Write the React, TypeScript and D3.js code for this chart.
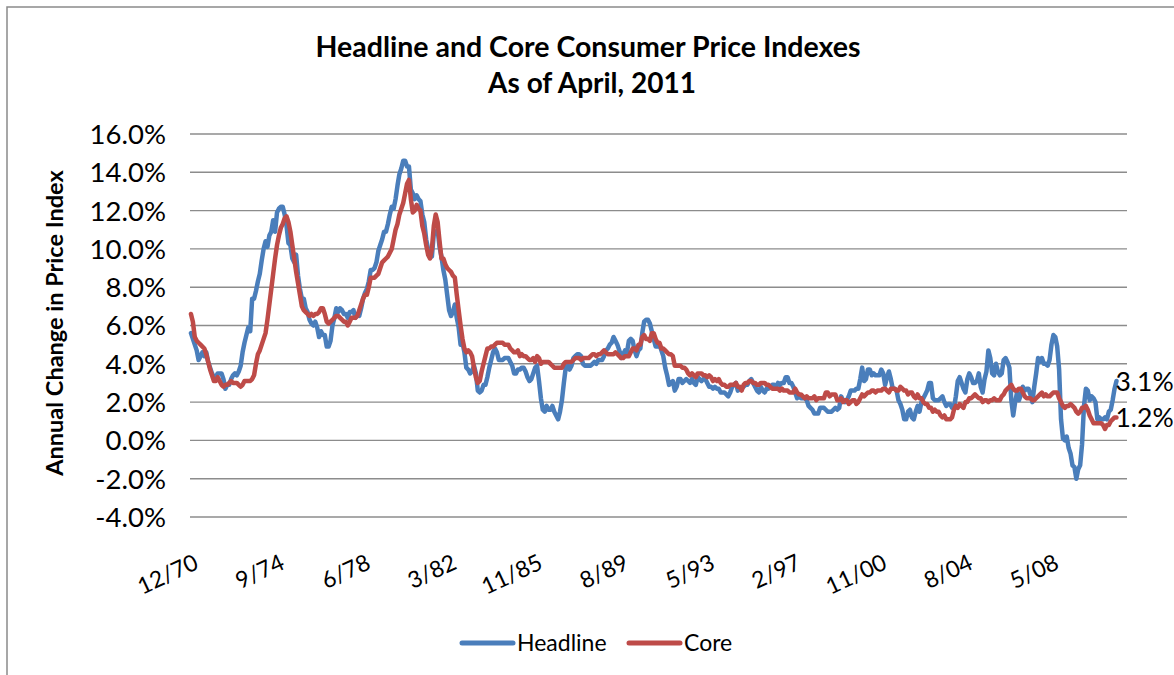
import React from "react";
import * as d3 from "d3";

// monthly year-over-year % change, Dec 1970 .. Apr 2011
const headline: number[] = [
  5.6,
  5.3, 5.0, 4.7, 4.2, 4.4, 4.6, 4.4, 4.6, 4.1, 3.8, 3.5, 3.3, // 1971
  3.3, 3.5, 3.5, 3.5, 3.2, 2.7, 2.9, 2.9, 3.2, 3.4, 3.5, 3.4, // 1972
  3.6, 3.9, 4.6, 5.1, 5.5, 5.9, 5.7, 7.4, 7.4, 7.8, 8.3, 8.7, // 1973
  9.4, 10.0, 10.4, 10.1, 10.7, 10.9, 11.5, 10.9, 11.9, 12.1, 12.2, 12.2, // 1974
  11.8, 11.2, 10.3, 10.2, 9.5, 9.3, 9.7, 8.6, 7.9, 7.4, 7.4, 6.9, // 1975
  6.7, 6.3, 6.1, 6.0, 6.2, 5.9, 5.4, 5.7, 5.5, 5.5, 4.9, 4.9, // 1976
  5.2, 6.0, 6.4, 6.9, 6.7, 6.9, 6.8, 6.6, 6.6, 6.4, 6.7, 6.7, // 1977
  6.8, 6.4, 6.6, 6.5, 6.9, 7.4, 7.7, 7.9, 8.3, 8.9, 8.9, 9.0, // 1978
  9.3, 9.9, 10.2, 10.5, 10.9, 10.9, 11.3, 11.8, 12.2, 12.1, 12.6, 13.3, // 1979
  13.9, 14.2, 14.6, 14.6, 14.3, 14.3, 13.1, 12.9, 12.6, 12.8, 12.6, 12.5, // 1980
  11.8, 11.4, 10.5, 10.0, 9.8, 9.6, 10.8, 10.8, 11.0, 10.1, 9.6, 8.9, // 1981
  8.4, 7.6, 6.8, 6.5, 6.7, 7.1, 6.4, 5.9, 5.0, 5.1, 4.6, 3.8, // 1982
  3.7, 3.5, 3.6, 3.9, 3.5, 2.6, 2.5, 2.6, 2.9, 2.9, 3.3, 3.8, // 1983
  4.2, 4.6, 4.8, 4.6, 4.2, 4.2, 4.2, 4.3, 4.3, 4.3, 4.1, 3.9, // 1984
  3.5, 3.5, 3.7, 3.7, 3.8, 3.8, 3.6, 3.3, 3.1, 3.2, 3.5, 3.8, // 1985
  3.9, 3.1, 2.2, 1.6, 1.5, 1.8, 1.6, 1.6, 1.8, 1.5, 1.3, 1.1, // 1986
  1.5, 2.1, 3.0, 3.8, 3.9, 3.7, 3.9, 4.3, 4.4, 4.5, 4.5, 4.4, // 1987
  4.0, 3.9, 3.9, 3.9, 3.9, 4.0, 4.1, 4.0, 4.2, 4.2, 4.2, 4.4, // 1988
  4.7, 4.8, 5.0, 5.1, 5.4, 5.2, 5.0, 4.7, 4.3, 4.5, 4.7, 4.6, // 1989
  5.2, 5.3, 5.2, 4.7, 4.4, 4.7, 4.8, 5.6, 6.2, 6.3, 6.3, 6.1, // 1990
  5.7, 5.3, 4.9, 4.9, 5.0, 4.7, 4.4, 3.8, 3.4, 2.9, 3.0, 3.1, // 1991
  2.6, 2.8, 3.2, 3.2, 3.0, 3.1, 3.2, 3.1, 3.0, 3.2, 3.0, 2.9, // 1992
  3.3, 3.2, 3.1, 3.2, 3.2, 3.0, 2.8, 2.8, 2.7, 2.8, 2.7, 2.7, // 1993
  2.5, 2.5, 2.5, 2.4, 2.3, 2.5, 2.8, 2.9, 3.0, 2.6, 2.7, 2.7, // 1994
  2.8, 2.9, 2.9, 3.1, 3.2, 3.0, 2.8, 2.6, 2.5, 2.8, 2.6, 2.5, // 1995
  2.7, 2.7, 2.8, 2.9, 2.9, 2.8, 3.0, 2.9, 3.0, 3.0, 3.3, 3.3, // 1996
  3.0, 3.0, 2.8, 2.5, 2.2, 2.3, 2.2, 2.2, 2.2, 2.1, 1.8, 1.7, // 1997
  1.6, 1.4, 1.4, 1.4, 1.7, 1.7, 1.7, 1.6, 1.5, 1.5, 1.5, 1.6, // 1998
  1.7, 1.6, 1.7, 2.3, 2.1, 2.0, 2.1, 2.3, 2.6, 2.6, 2.6, 2.7, // 1999
  2.7, 3.2, 3.8, 3.1, 3.2, 3.7, 3.7, 3.4, 3.5, 3.4, 3.4, 3.4, // 2000
  3.7, 3.5, 2.9, 3.3, 3.6, 3.2, 2.7, 2.7, 2.6, 2.1, 1.9, 1.6, // 2001
  1.1, 1.1, 1.5, 1.6, 1.2, 1.1, 1.5, 1.8, 1.5, 2.0, 2.2, 2.4, // 2002
  2.6, 3.0, 3.0, 2.2, 2.1, 2.1, 2.1, 2.2, 2.3, 2.0, 1.8, 1.9, // 2003
  1.9, 1.7, 1.7, 2.3, 3.1, 3.3, 3.0, 2.7, 2.5, 3.2, 3.5, 3.3, // 2004
  3.0, 3.0, 3.1, 3.5, 2.8, 2.5, 3.2, 3.6, 4.7, 4.3, 3.5, 3.4, // 2005
  4.0, 3.6, 3.4, 3.5, 4.2, 4.3, 4.1, 3.8, 2.1, 1.3, 2.0, 2.5, // 2006
  2.1, 2.4, 2.8, 2.6, 2.7, 2.7, 2.4, 2.0, 2.8, 3.5, 4.3, 4.1, // 2007
  4.3, 4.0, 4.0, 3.9, 4.2, 5.0, 5.5, 5.4, 4.9, 3.7, 1.1, 0.1, // 2008
  0.0, 0.2, -0.4, -0.7, -1.3, -1.4, -2.0, -1.5, -1.3, -0.2, 1.8, 2.7, // 2009
  2.6, 2.1, 2.3, 2.2, 2.0, 1.1, 1.2, 1.1, 1.1, 1.2, 1.1, 1.5, // 2010
  1.6, 2.1, 2.7, 3.1, // 2011
];

const core: number[] = [
  6.6,
  6.2, 5.4, 5.2, 5.1, 5.0, 4.9, 4.8, 4.5, 4.1, 3.7, 3.4, 3.1, // 1971
  3.1, 3.3, 3.1, 2.9, 2.8, 2.9, 2.9, 3.0, 3.1, 3.0, 3.0, 3.0, // 1972
  2.9, 2.8, 2.9, 3.1, 3.1, 3.1, 3.1, 3.2, 3.4, 4.0, 4.5, 4.7, // 1973
  5.0, 5.3, 5.6, 6.3, 7.1, 7.9, 8.7, 9.5, 10.2, 10.7, 11.1, 11.3, // 1974
  11.6, 11.7, 11.4, 10.9, 10.2, 9.5, 8.8, 8.2, 7.6, 7.0, 6.8, 6.7, // 1975
  6.6, 6.5, 6.6, 6.5, 6.6, 6.6, 6.7, 6.9, 6.9, 6.6, 6.2, 6.1, // 1976
  6.2, 6.3, 6.4, 6.5, 6.5, 6.4, 6.3, 6.2, 6.2, 6.0, 6.2, 6.4, // 1977
  6.4, 6.4, 6.5, 6.8, 7.1, 7.4, 7.6, 7.6, 8.0, 8.5, 8.5, 8.5, // 1978
  8.6, 8.7, 9.0, 9.3, 9.4, 9.5, 9.6, 9.8, 10.0, 10.5, 11.0, 11.3, // 1979
  11.8, 12.1, 12.4, 12.9, 13.4, 13.6, 12.6, 11.9, 12.0, 12.3, 12.1, 12.0, // 1980
  11.2, 10.8, 10.2, 9.7, 9.5, 10.0, 11.2, 11.8, 11.4, 10.4, 9.5, 9.5, // 1981
  9.2, 9.0, 8.9, 8.8, 8.6, 8.5, 7.6, 6.8, 6.0, 5.3, 4.8, 4.6, // 1982
  4.7, 4.6, 4.4, 3.8, 3.3, 3.0, 3.1, 3.6, 4.0, 4.4, 4.8, 4.8, // 1983
  4.9, 4.9, 5.0, 5.1, 5.1, 5.1, 5.1, 5.0, 5.0, 5.0, 4.8, 4.7, // 1984
  4.6, 4.6, 4.7, 4.4, 4.5, 4.4, 4.4, 4.3, 4.2, 4.2, 4.3, 4.1, // 1985
  4.4, 4.3, 4.0, 4.1, 4.1, 4.1, 4.1, 4.0, 3.9, 3.8, 3.8, 3.8, // 1986
  3.8, 3.8, 4.0, 4.1, 4.1, 4.1, 4.1, 4.2, 4.3, 4.3, 4.3, 4.2, // 1987
  4.3, 4.3, 4.3, 4.3, 4.4, 4.5, 4.5, 4.4, 4.5, 4.5, 4.6, 4.7, // 1988
  4.6, 4.5, 4.5, 4.5, 4.5, 4.6, 4.5, 4.4, 4.3, 4.3, 4.4, 4.4, // 1989
  4.4, 4.6, 4.8, 4.8, 4.7, 5.0, 5.0, 5.4, 5.5, 5.3, 5.3, 5.2, // 1990
  5.6, 5.6, 5.3, 5.1, 5.1, 4.8, 4.8, 4.7, 4.6, 4.5, 4.5, 4.4, // 1991
  3.9, 3.9, 3.9, 3.9, 3.8, 3.8, 3.7, 3.5, 3.4, 3.5, 3.4, 3.3, // 1992
  3.5, 3.5, 3.5, 3.4, 3.4, 3.3, 3.4, 3.3, 3.1, 3.2, 3.1, 3.2, // 1993
  3.0, 2.9, 2.9, 2.8, 2.8, 2.9, 2.9, 2.9, 3.0, 2.8, 2.8, 2.6, // 1994
  2.9, 3.0, 3.0, 3.1, 3.1, 3.0, 3.0, 2.9, 2.9, 3.0, 3.0, 3.0, // 1995
  2.9, 2.9, 2.8, 2.7, 2.7, 2.7, 2.7, 2.6, 2.7, 2.6, 2.6, 2.6, // 1996
  2.5, 2.5, 2.5, 2.7, 2.5, 2.4, 2.4, 2.3, 2.2, 2.3, 2.2, 2.2, // 1997
  2.2, 2.3, 2.1, 2.2, 2.2, 2.2, 2.2, 2.5, 2.5, 2.3, 2.4, 2.4, // 1998
  2.4, 2.1, 2.1, 2.2, 2.0, 2.1, 2.1, 1.9, 2.0, 2.1, 2.1, 1.9, // 1999
  2.0, 2.2, 2.4, 2.3, 2.4, 2.5, 2.5, 2.6, 2.6, 2.5, 2.6, 2.6, // 2000
  2.6, 2.7, 2.7, 2.6, 2.5, 2.7, 2.7, 2.7, 2.6, 2.6, 2.8, 2.7, // 2001
  2.6, 2.6, 2.4, 2.5, 2.5, 2.3, 2.2, 2.4, 2.2, 2.2, 2.0, 1.9, // 2002
  1.9, 1.7, 1.7, 1.5, 1.6, 1.5, 1.5, 1.3, 1.2, 1.3, 1.1, 1.1, // 2003
  1.1, 1.2, 1.6, 1.8, 1.7, 1.9, 1.8, 1.7, 2.0, 2.0, 2.2, 2.2, // 2004
  2.3, 2.4, 2.3, 2.2, 2.2, 2.0, 2.1, 2.1, 2.0, 2.1, 2.1, 2.2, // 2005
  2.1, 2.1, 2.1, 2.3, 2.4, 2.6, 2.7, 2.8, 2.9, 2.7, 2.6, 2.6, // 2006
  2.7, 2.7, 2.5, 2.3, 2.2, 2.2, 2.2, 2.1, 2.1, 2.2, 2.3, 2.4, // 2007
  2.5, 2.3, 2.4, 2.3, 2.3, 2.4, 2.5, 2.5, 2.5, 2.2, 2.0, 1.8, // 2008
  1.7, 1.8, 1.8, 1.9, 1.8, 1.7, 1.5, 1.4, 1.5, 1.7, 1.7, 1.8, // 2009
  1.6, 1.3, 1.1, 0.9, 0.9, 0.9, 0.9, 0.9, 0.8, 0.6, 0.8, 0.8, // 2010
  1.0, 1.1, 1.2, 1.2, // 2011
];

const xTickLabels = ["12/70", "9/74", "6/78", "3/82", "11/85", "8/89", "5/93", "2/97", "11/00", "8/04", "5/08"];
const yTicks = [-4, -2, 0, 2, 4, 6, 8, 10, 12, 14, 16];
const labelEvery = 45; // categories between axis labels
const categoryCount = 490; // axis has a few empty slots after the last month

const W = 1174;
const H = 675;
const plot = { left: 190, right: 1127, top: 134, bottom: 517 };
const blue = "#4a7ebb";
const red = "#be4b48";
const font = "Lato, 'Open Sans', sans-serif";

export default function App() {
  const x = d3.scaleLinear().domain([-0.5, categoryCount - 0.5]).range([plot.left, plot.right]);
  const y = d3.scaleLinear().domain([-4, 16]).range([plot.bottom, plot.top]);

  const line = d3
    .line<number>()
    .x((_, i) => x(i))
    .y((d) => y(d));

  const series = [
    { name: "Headline", values: headline, color: blue },
    { name: "Core", values: core, color: red },
  ];

  return (
    <svg
      width={W}
      height={H}
      style={{ position: "absolute", left: 0, top: 0, background: "#fff" }}
      fontFamily={font}
    >
      <rect x={7} y={7} width={W + 20} height={H + 20} fill="#fff" stroke="#8a8a8a" strokeWidth={1.5} />

      <text x={588} y={57} textAnchor="middle" fontWeight="bold" fontSize={28.5}>
        Headline and Core Consumer Price Indexes
      </text>
      <text x={592} y={93} textAnchor="middle" fontWeight="bold" fontSize={28}>
        As of April, 2011
      </text>

      {yTicks.map((t) => (
        <g key={t}>
          <line x1={plot.left} x2={plot.right} y1={y(t)} y2={y(t)} stroke="#8c8c8c" strokeWidth={1.4} />
          <text x={166} y={y(t)} dy="0.36em" textAnchor="end" fontSize={27.5}>
            {t.toFixed(1) + "%"}
          </text>
        </g>
      ))}

      <text
        transform="translate(63,323) rotate(-90)"
        textAnchor="middle"
        fontWeight="bold"
        fontSize={23.5}
      >
        Annual Change in Price Index
      </text>

      {xTickLabels.map((lab, i) => (
        <text
          key={lab}
          transform={`translate(${x(i * labelEvery) + 2},553) rotate(-25)`}
          dy="0.72em"
          textAnchor="end"
          fontSize={23}
        >
          {lab}
        </text>
      ))}

      {series.map((s) => (
        <path
          key={s.name}
          d={line(s.values) ?? ""}
          fill="none"
          stroke={s.color}
          strokeWidth={4.5}
          strokeLinejoin="round"
          strokeLinecap="round"
        />
      ))}

      {series.map((s) => {
        const last = s.values.length - 1;
        return (
          <text key={s.name} x={x(last) - 1} y={y(s.values[last])} dy="0.36em" fontSize={26.5}>
            {s.values[last].toFixed(1) + "%"}
          </text>
        );
      })}

      {series.map((s, i) => {
        const lx = 462 + i * 167;
        return (
          <g key={s.name}>
            <line x1={lx} x2={lx + 51} y1={643} y2={643} stroke={s.color} strokeWidth={5} strokeLinecap="round" />
            <text x={lx + 55} y={643} dy="0.36em" fontSize={23}>
              {s.name}
            </text>
          </g>
        );
      })}
    </svg>
  );
}
